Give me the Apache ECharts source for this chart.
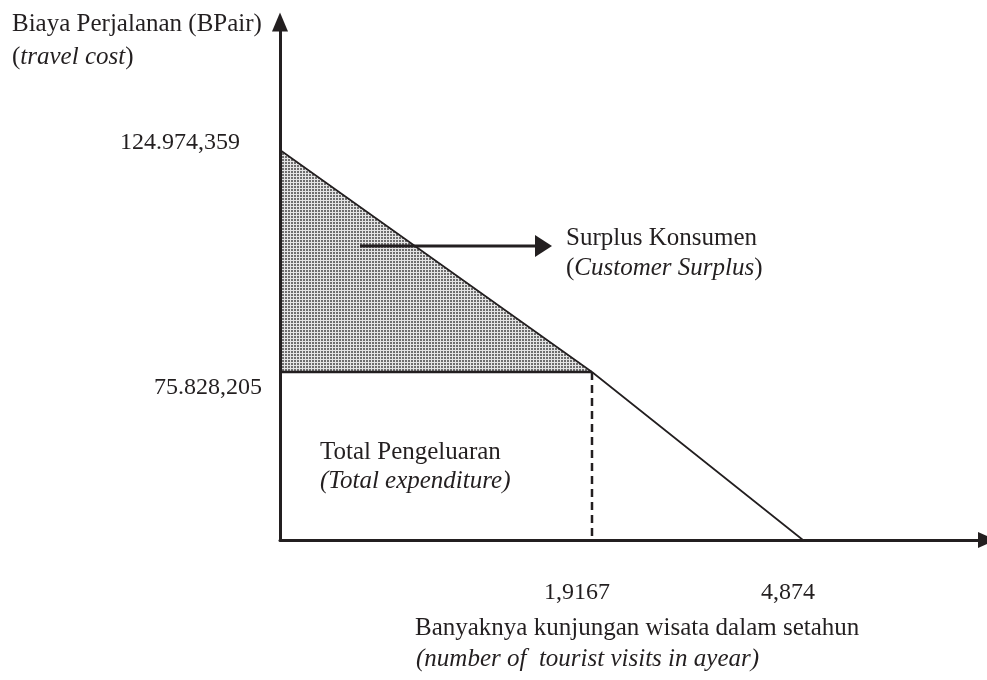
<!DOCTYPE html>
<html>
<head>
<meta charset="utf-8">
<script src="https://cdn.jsdelivr.net/npm/echarts@6/dist/echarts.min.js"></script>
<style>
  html, body { margin: 0; padding: 0; background: #ffffff; }
  #chart { width: 987px; height: 680px; }
</style>
</head>
<body>
<div id="chart"></div>
<script>
// ---------------- data ----------------
const quantity = [0, 1.9167, 4.874];              // visits per year (demand curve points)
const price = [124974359, 75828205, 0];           // travel cost (BPair)
const xTickValues = [1.9167, 4.874];
const xTickLabels = ['1,9167', '4,874'];
const yTickValues = [124974359, 75828205];
const yTickLabels = ['124.974,359', '75.828,205'];

// ---------------- schematic axis layout (diagram is not drawn to scale) ----------------
const Q1 = quantity[1], QMAX = quantity[2];
const PMAX = price[0], P1 = price[1];
function piece(v, stops, at) {
  for (let i = 1; i < stops.length; i++) {
    if (v <= stops[i] || i === stops.length - 1) {
      const t = (v - stops[i - 1]) / (stops[i] - stops[i - 1]);
      return at[i - 1] + t * (at[i] - at[i - 1]);
    }
  }
  return v;
}
const fx = v => piece(v, [0, Q1, QMAX], [0, 0.4413, 0.7397]);
const fy = v => piece(v, [0, P1, PMAX], [0, 0.3243, 0.7529]);

const INK = '#231f20';
const FONT = '"Liberation Serif", "DejaVu Serif", serif';

// dotted pattern for consumer surplus
const tile = document.createElement('canvas');
tile.width = 3; tile.height = 3;
const tctx = tile.getContext('2d');
tctx.fillStyle = '#e4e4e4'; tctx.fillRect(0, 0, 3, 3);
tctx.fillStyle = '#6e6e6e'; tctx.fillRect(0, 0, 2, 2);

const demandData = quantity.map((q, i) => [fx(q), fy(price[i])]);
const surplusVerts = [[fx(0), fy(PMAX)], [fx(Q1), fy(P1)], [fx(0), fy(P1)]];
const expenditureTop = [[fx(0), fy(P1)], [fx(Q1), fy(P1)]];
const expenditureSide = [[fx(Q1), fy(P1)], [fx(Q1), fy(0)]];

const chart = echarts.init(document.getElementById('chart'), null, { renderer: 'canvas' });

const option = {
  backgroundColor: '#ffffff',
  animation: false,
  grid: { left: 280, right: 0, top: 22, bottom: 140, containLabel: false },
  xAxis: {
    type: 'value', min: 0, max: 1, z: 5,
    splitLine: { show: false },
    axisTick: { show: false },
    axisLine: { show: true, onZero: false, symbol: ['none', 'triangle'], symbolSize: [16, 18],
      lineStyle: { color: INK, width: 3 } },
    axisLabel: {
      show: true, margin: 39, customValues: xTickValues.map(fx),
      color: INK, fontFamily: FONT, fontSize: 24, lineHeight: 28,
      formatter: function (val) {
        const i = xTickValues.findIndex(v => Math.abs(fx(v) - val) < 1e-6);
        return i < 0 ? '' : '{t|' + xTickLabels[i] + '}';
      },
      rich: { t: { fontFamily: FONT, fontSize: 24, color: INK, padding: [0, 30, 0, 0] } }
    }
  },
  yAxis: {
    type: 'value', min: 0, max: 1, z: 5,
    splitLine: { show: false },
    axisTick: { show: false },
    axisLine: { show: true, onZero: false, symbol: ['none', 'triangle'], symbolSize: [16, 19],
      lineStyle: { color: INK, width: 3 } },
    axisLabel: {
      show: true, margin: 18, customValues: yTickValues.map(fy),
      color: INK, fontFamily: FONT, fontSize: 24,
      formatter: function (val) {
        const i = yTickValues.findIndex(v => Math.abs(fy(v) - val) < 1e-6);
        if (i < 0) return '';
        return (i === 0 ? '{a|' : '{b|') + yTickLabels[i] + '}';
      },
      rich: {
        a: { fontFamily: FONT, fontSize: 24, color: INK, padding: [0, 22, 14, 0] },
        b: { fontFamily: FONT, fontSize: 24, color: INK, padding: [32, 0, 0, 0] }
      }
    }
  },
  series: [
    {
      type: 'custom', name: 'Surplus Konsumen', z: 1,
      data: surplusVerts,
      encode: { x: 0, y: 1 },
      renderItem: function (params, api) {
        if (params.dataIndex !== 0) return null;
        const pts = surplusVerts.map(v => api.coord(v));
        return { type: 'polygon', shape: { points: pts },
          style: { fill: { image: tile, repeat: 'repeat' }, stroke: null } };
      }
    },
    {
      type: 'line', name: 'Permintaan', z: 3, symbol: 'none',
      data: demandData,
      lineStyle: { color: INK, width: 1.7 }
    },
    {
      type: 'line', name: 'Total Pengeluaran (atas)', z: 3, symbol: 'none',
      data: expenditureTop,
      lineStyle: { color: INK, width: 2.5 }
    },
    {
      type: 'line', name: 'Total Pengeluaran (sisi)', z: 3, symbol: 'none',
      data: expenditureSide,
      lineStyle: { color: INK, width: 2.5, type: [8, 5] }
    }
  ],
  graphic: [
    { type: 'text', x: 12, y: 24, style: { text: 'Biaya Perjalanan (BPair)', fill: INK,
      fontFamily: FONT, fontSize: 25, verticalAlign: 'middle', align: 'left' } },
    { type: 'text', x: 12, y: 57, style: { text: '{n|(}{i|travel cost}{n|)}', fill: INK,
      fontFamily: FONT, fontSize: 25, verticalAlign: 'middle', align: 'left',
      rich: { n: { fontFamily: FONT, fontSize: 25, fill: INK }, i: { fontFamily: FONT, fontSize: 25, fontStyle: 'italic', fill: INK } } } },
    { type: 'text', x: 566, y: 238, style: { text: 'Surplus Konsumen', fill: INK,
      fontFamily: FONT, fontSize: 25, verticalAlign: 'middle', align: 'left' } },
    { type: 'text', x: 566, y: 268, style: { text: '{n|(}{i|Customer Surplus}{n|)}', fill: INK,
      fontFamily: FONT, fontSize: 25, verticalAlign: 'middle', align: 'left',
      rich: { n: { fontFamily: FONT, fontSize: 25, fill: INK }, i: { fontFamily: FONT, fontSize: 25, fontStyle: 'italic', fill: INK } } } },
    { type: 'text', x: 320, y: 452, style: { text: 'Total Pengeluaran', fill: INK,
      fontFamily: FONT, fontSize: 25, verticalAlign: 'middle', align: 'left' } },
    { type: 'text', x: 320, y: 481, style: { text: '(Total expenditure)', fill: INK,
      fontFamily: FONT, fontSize: 25, fontStyle: 'italic', verticalAlign: 'middle', align: 'left' } },
    { type: 'text', x: 415, y: 628, style: { text: 'Banyaknya kunjungan wisata dalam setahun', fill: INK,
      fontFamily: FONT, fontSize: 25, verticalAlign: 'middle', align: 'left' } },
    { type: 'text', x: 416, y: 659, style: { text: '(number of  tourist visits in ayear)', fill: INK,
      fontFamily: FONT, fontSize: 25, fontStyle: 'italic', verticalAlign: 'middle', align: 'left' } },
    // annotation arrow pointing to the surplus label
    { type: 'line', z: 10, shape: { x1: 360, y1: 246, x2: 538, y2: 246 },
      style: { stroke: INK, lineWidth: 3 } },
    { type: 'polygon', z: 10, shape: { points: [[535, 235], [552, 246], [535, 257]] },
      style: { fill: INK } }
  ]
};
chart.setOption(option);
</script>
</body>
</html>
